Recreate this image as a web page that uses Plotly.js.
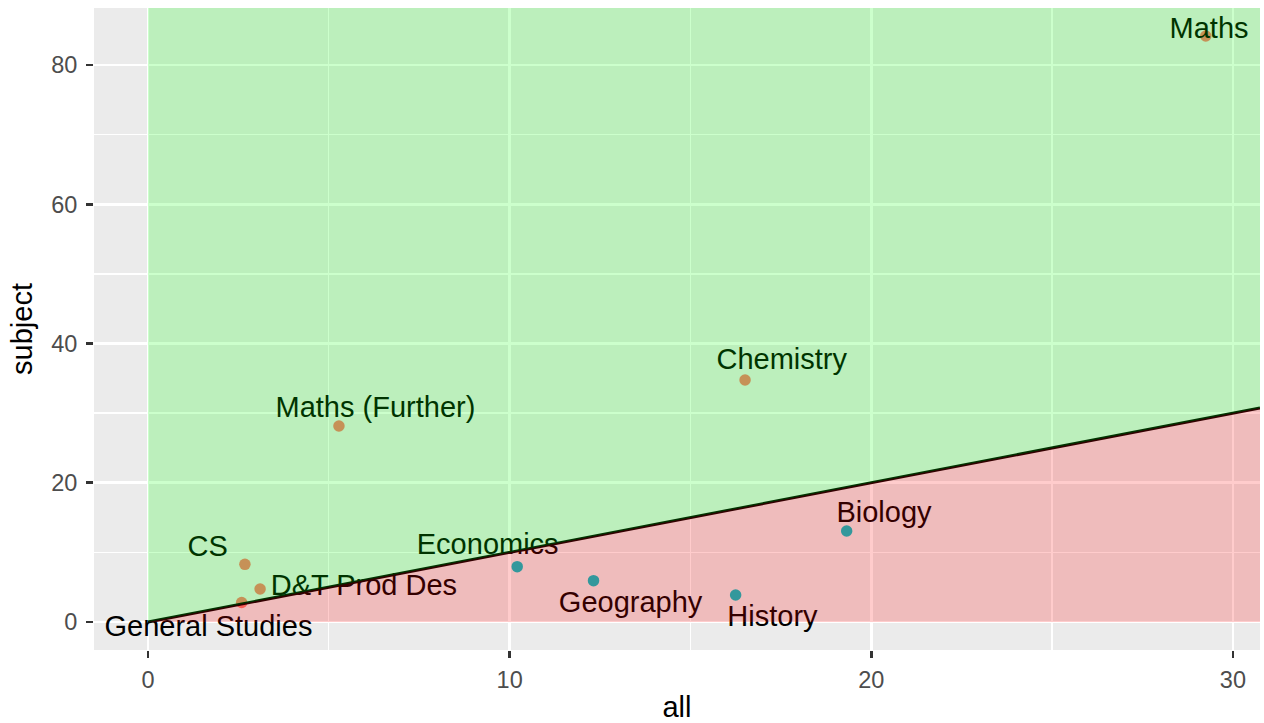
<!DOCTYPE html>
<html>
<head>
<meta charset="utf-8">
<script src="https://cdn.plot.ly/plotly-3.0.1.min.js"></script>
<style>html,body{margin:0;padding:0;background:#fff;}#chart{width:1264px;height:723px;}</style>
</head>
<body>
<div id="chart"></div>
<script>
// ---- data ----
const subjects = ["Maths","Chemistry","Maths (Further)","CS","D&T Prod Des","General Studies","Economics","Geography","History","Biology"];
const allPct   = [29.25, 16.51, 5.28, 2.68, 3.10, 2.59, 10.21, 12.32, 16.25, 19.32];
const subjPct  = [84.17, 34.76, 28.15, 8.28, 4.74, 2.80, 7.95, 5.94, 3.88, 13.07];
const xTicks = [0, 10, 20, 30];
const yTicks = [0, 20, 40, 60, 80];

// ---- layout / style ----
const W = 1264, H = 723;
const margin = {l: 94, r: 4, t: 8, b: 73};
const xRange = [-1.493, 30.75];
const yRange = [-4.02, 88.19];
const pxPerX = (W - margin.l - margin.r) / (xRange[1] - xRange[0]);
const pxPerY = (H - margin.t - margin.b) / (yRange[1] - yRange[0]);
// label nudges in pixels [dx, dy(down)]
const labelNudge = [[3.3,-9.2],[36.7,-21.7],[36.5,-20],[-37.2,-19.3],[103.8,-5],[-33.2,22.5],[-29.5,-23.7],[37.1,21],[36.8,20],[37.3,-20]];
const textBaselineShift = 3.5; // px, downward correction for text anchor

const above = subjPct.map((v,i)=> v > allPct[i]);
const ptColors = above.map(a => a ? "#F8766D" : "#00BFC4");

const labelX = allPct.map((v,i)=> v + labelNudge[i][0]/pxPerX);
const labelY = subjPct.map((v,i)=> v - (labelNudge[i][1] + textBaselineShift)/pxPerY);

const FONT = "Liberation Sans, Arial, Helvetica, sans-serif";

const traces = [
  { // points
    type: "scatter", mode: "markers", x: allPct, y: subjPct,
    marker: {color: ptColors, size: 11.5, line: {width: 0}},
    hoverinfo: "skip", showlegend: false
  },
  { // labels
    type: "scatter", mode: "text", x: labelX, y: labelY, text: subjects,
    textposition: "middle center",
    textfont: {family: FONT, size: 29, color: "#000000"},
    cliponaxis: false, hoverinfo: "skip", showlegend: false
  },
  { // y = x reference line
    type: "scatter", mode: "lines", x: [0, xRange[1]], y: [0, xRange[1]],
    line: {color: "#000000", width: 3}, hoverinfo: "skip", showlegend: false
  },
  { // green region (subject > all)
    type: "scatter", mode: "lines", fill: "toself",
    x: [0, xRange[1], xRange[1], 0, 0], y: [0, xRange[1], yRange[1], yRange[1], 0],
    fillcolor: "rgba(0,255,0,0.2)", line: {width: 0}, hoverinfo: "skip", showlegend: false
  },
  { // red region (subject < all)
    type: "scatter", mode: "lines", fill: "toself",
    x: [0, xRange[1], xRange[1], 0], y: [0, xRange[1], 0, 0],
    fillcolor: "rgba(255,0,0,0.2)", line: {width: 0}, hoverinfo: "skip", showlegend: false
  }
];

const axisCommon = {
  showgrid: true, gridcolor: "#FFFFFF", gridwidth: 2.7,
  zeroline: false, showline: false,
  ticks: "outside", ticklen: 7, tickwidth: 2.7, tickcolor: "#333333",
  tickfont: {family: FONT, size: 23.5, color: "#4D4D4D"},
  fixedrange: true
};

const layout = {
  width: W, height: H, margin: margin,
  paper_bgcolor: "#FFFFFF", plot_bgcolor: "#EBEBEB",
  font: {family: FONT},
  showlegend: false,
  xaxis: Object.assign({}, axisCommon, {
    range: xRange, tickmode: "array", tickvals: xTicks, ticktext: xTicks.map(String),
    minor: {dtick: 5, tick0: 0, showgrid: true, gridcolor: "#FFFFFF", gridwidth: 1.35, ticks: ""},
    ticklabelstandoff: 2,
    title: {text: "all", font: {family: FONT, size: 29, color: "#000000"}, standoff: 6}
  }),
  yaxis: Object.assign({}, axisCommon, {
    range: yRange, tickmode: "array", tickvals: yTicks, ticktext: yTicks.map(String),
    minor: {dtick: 10, tick0: 0, showgrid: true, gridcolor: "#FFFFFF", gridwidth: 1.35, ticks: ""},
    ticklabelstandoff: 4,
    title: {text: "subject", font: {family: FONT, size: 29, color: "#000000"}, standoff: 10}
  })
};

Plotly.newPlot("chart", traces, layout, {displayModeBar: false, staticPlot: true});
</script>
</body>
</html>
